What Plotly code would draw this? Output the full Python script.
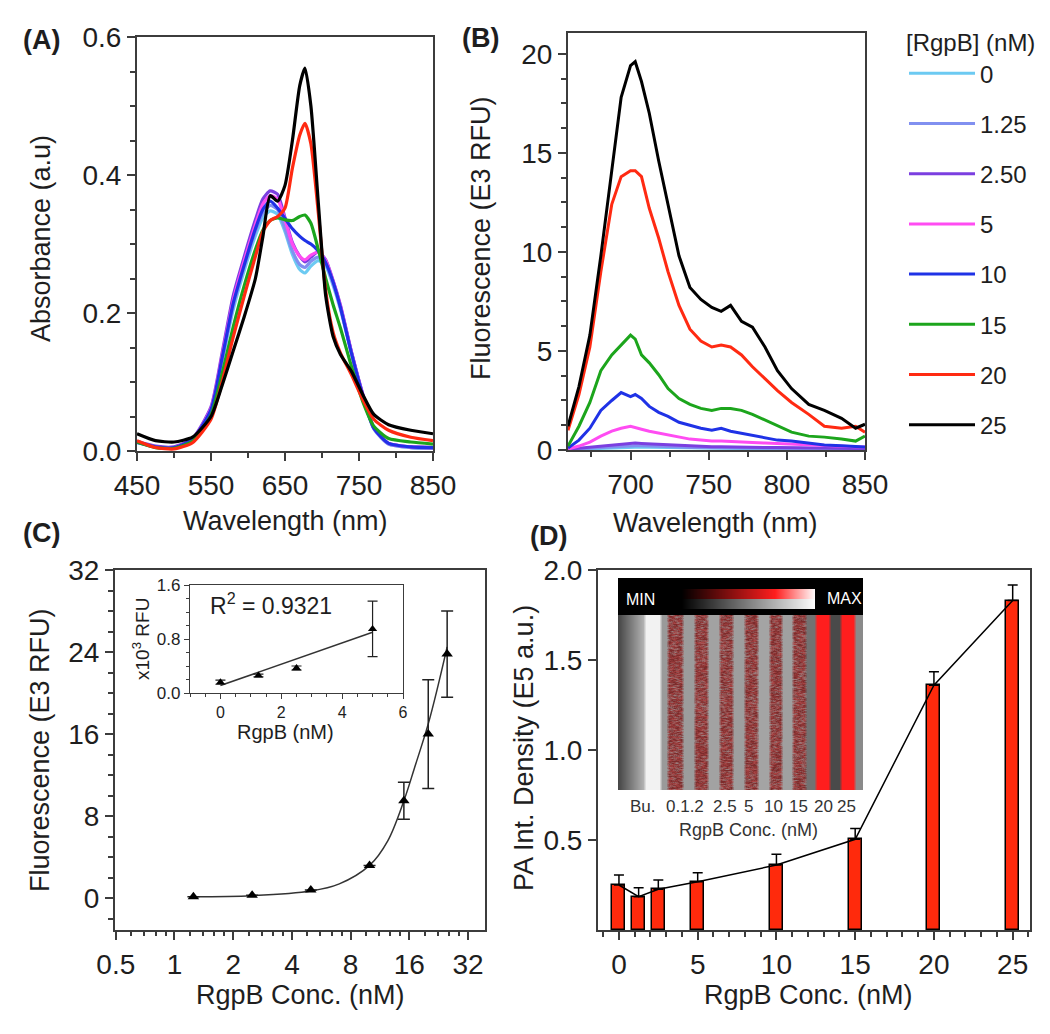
import base64, struct, zlib
import numpy as np
import plotly.graph_objects as go

W, H = 1050, 1034
FONT = "Liberation Sans, Arial, sans-serif"
TXT = "#1e1e1e"
AXC = "#3c3c3c"

# ---------------- data ----------------
CONC_LABELS = ["0", "1.25", "2.50", "5", "10", "15", "20", "25"]
COLORS = ["#6ccaf2", "#8190f0", "#7b3fe0", "#ff4cf2", "#1f32e6", "#1ca51c", "#ff2a12", "#000000"]

# (A) absorbance spectra
WL_A = [450, 475, 500, 525, 550, 565, 580, 595, 610, 620, 630, 640, 650, 660, 670, 677, 685,
        695, 705, 715, 725, 740, 755, 770, 790, 820, 850]
ABS_0 = [0.012, 0.006, 0.005, 0.016, 0.058, 0.130, 0.205, 0.262, 0.312, 0.338, 0.348, 0.343, 0.318,
         0.285, 0.263, 0.258, 0.268, 0.276, 0.268, 0.240, 0.205, 0.140, 0.080, 0.032, 0.010, 0.005, 0.004]
ABS_125 = [0.012, 0.006, 0.005, 0.016, 0.060, 0.133, 0.210, 0.268, 0.318, 0.345, 0.356, 0.350, 0.322,
           0.290, 0.270, 0.266, 0.275, 0.281, 0.272, 0.243, 0.208, 0.142, 0.082, 0.033, 0.010, 0.005, 0.004]
ABS_250 = [0.014, 0.007, 0.006, 0.018, 0.064, 0.142, 0.225, 0.282, 0.335, 0.365, 0.377, 0.372, 0.338,
           0.302, 0.282, 0.274, 0.281, 0.289, 0.277, 0.247, 0.211, 0.143, 0.083, 0.034, 0.011, 0.006, 0.005]
ABS_5 = [0.013, 0.006, 0.005, 0.017, 0.062, 0.138, 0.218, 0.276, 0.328, 0.358, 0.370, 0.365, 0.335,
         0.300, 0.282, 0.277, 0.284, 0.288, 0.276, 0.246, 0.210, 0.142, 0.082, 0.033, 0.011, 0.006, 0.005]
ABS_10 = [0.013, 0.006, 0.005, 0.017, 0.060, 0.135, 0.214, 0.270, 0.322, 0.350, 0.362, 0.352, 0.337,
          0.322, 0.311, 0.305, 0.300, 0.290, 0.273, 0.245, 0.208, 0.141, 0.081, 0.033, 0.011, 0.006, 0.005]
ABS_15 = [0.013, 0.005, 0.004, 0.014, 0.052, 0.112, 0.180, 0.240, 0.292, 0.320, 0.334, 0.338, 0.335,
          0.334, 0.340, 0.342, 0.330, 0.292, 0.250, 0.212, 0.178, 0.122, 0.072, 0.036, 0.018, 0.013, 0.010]
ABS_20 = [0.015, 0.005, 0.003, 0.012, 0.046, 0.100, 0.165, 0.225, 0.282, 0.318, 0.334, 0.340, 0.352,
          0.410, 0.458, 0.475, 0.445, 0.345, 0.232, 0.172, 0.142, 0.110, 0.075, 0.046, 0.030, 0.020, 0.015]
ABS_25 = [0.025, 0.015, 0.013, 0.020, 0.050, 0.095, 0.145, 0.195, 0.250, 0.310, 0.370, 0.362, 0.385,
          0.450, 0.530, 0.555, 0.500, 0.360, 0.225, 0.166, 0.140, 0.115, 0.082, 0.053, 0.038, 0.030, 0.025]

# (B) fluorescence spectra (E3 RFU)
WL_B = [660, 667, 674, 681, 688, 694, 700, 703, 707, 712, 718, 724, 731, 738, 745, 752, 758, 764,
        771, 778, 786, 794, 803, 814, 824, 835, 844, 850]
FL_0 = [0.02, 0.04, 0.07, 0.10, 0.13, 0.15, 0.16, 0.16, 0.15, 0.14, 0.13, 0.12, 0.11, 0.10, 0.09,
        0.08, 0.08, 0.08, 0.07, 0.07, 0.06, 0.06, 0.05, 0.05, 0.04, 0.04, 0.04, 0.04]
FL_125 = [0.03, 0.06, 0.10, 0.14, 0.18, 0.21, 0.22, 0.22, 0.21, 0.19, 0.18, 0.16, 0.15, 0.13, 0.12,
          0.11, 0.11, 0.10, 0.10, 0.09, 0.08, 0.08, 0.07, 0.06, 0.06, 0.05, 0.05, 0.05]
FL_250 = [0.04, 0.09, 0.15, 0.21, 0.27, 0.32, 0.35, 0.35, 0.33, 0.31, 0.28, 0.26, 0.23, 0.21, 0.19,
          0.17, 0.16, 0.16, 0.15, 0.14, 0.13, 0.12, 0.11, 0.10, 0.09, 0.08, 0.07, 0.07]
FL_5 = [0.05, 0.20, 0.40, 0.70, 0.95, 1.10, 1.20, 1.15, 1.05, 0.95, 0.85, 0.75, 0.65, 0.55, 0.50,
        0.45, 0.45, 0.42, 0.40, 0.38, 0.35, 0.32, 0.30, 0.27, 0.22, 0.20, 0.17, 0.15]
FL_10 = [0.10, 0.50, 1.10, 2.00, 2.50, 2.90, 2.70, 2.80, 2.60, 2.20, 1.90, 1.70, 1.40, 1.25, 1.10,
         1.00, 1.10, 0.95, 0.85, 0.75, 0.60, 0.50, 0.45, 0.35, 0.25, 0.22, 0.20, 0.15]
FL_15 = [0.20, 1.20, 2.40, 4.00, 4.80, 5.30, 5.80, 5.60, 4.80, 4.40, 3.80, 3.10, 2.60, 2.30, 2.10,
         2.00, 2.10, 2.10, 2.00, 1.80, 1.50, 1.20, 0.90, 0.70, 0.65, 0.55, 0.45, 0.70]
FL_20 = [1.00, 2.80, 5.20, 9.00, 12.40, 13.80, 14.10, 14.10, 13.80, 12.20, 10.70, 9.00, 7.30, 6.10,
         5.50, 5.20, 5.30, 5.20, 4.80, 4.20, 3.60, 3.00, 2.40, 1.80, 1.20, 1.10, 1.20, 0.90]
FL_25 = [1.20, 3.20, 5.80, 9.80, 14.10, 17.80, 19.40, 19.60, 18.60, 17.00, 14.60, 12.40, 9.80, 8.20,
         7.60, 7.20, 7.00, 7.30, 6.50, 6.20, 5.20, 4.00, 3.10, 2.30, 2.00, 1.60, 1.10, 1.30]

# (C) fluorescence vs concentration
C_CONC = [1.25, 2.5, 5, 10, 15, 20, 25]
C_FLUOR = [0.15, 0.30, 0.80, 3.2, 9.5, 16.0, 23.8]
C_ERR = [0, 0, 0, 0, 1.8, 5.3, 4.2]
C_FIT_X = [1.25, 2.5, 5, 7, 10, 12.4, 15, 17, 20, 22.5, 25]
C_FIT_Y = [0.15, 0.25, 0.70, 1.40, 3.20, 5.60, 9.50, 12.70, 17.0, 20.8, 24.5]
INS_X = [0, 1.25, 2.5, 5]
INS_Y = [0.16, 0.26, 0.37, 0.95]
INS_ERR = [0.03, 0.02, 0.03, 0.41]
INS_FIT_X = [0, 5]
INS_FIT_Y = [0.11, 0.90]

# (D) photoacoustic intensity
D_CONC = [0, 1.25, 2.5, 5, 10, 15, 20, 25]
D_PA = [0.25, 0.185, 0.226, 0.268, 0.361, 0.504, 1.36, 1.83]
D_ERR = [0.055, 0.05, 0.052, 0.05, 0.06, 0.06, 0.075, 0.087]
LANE_LABELS = ["Bu.", "0.1.2", "2.5", "5", "10", "15", "20", "25"]

ABS_SERIES = [ABS_0, ABS_125, ABS_250, ABS_5, ABS_10, ABS_15, ABS_20, ABS_25]
FL_SERIES = [FL_0, FL_125, FL_250, FL_5, FL_10, FL_15, FL_20, FL_25]


# ---------------- helpers ----------------
def dom_x(a, b):
    return [a / W, b / W]


def dom_y(top, bottom):
    return [1 - bottom / H, 1 - top / H]


def axstyle(size=28, lw=2, tl=8, **kw):
    d = dict(showline=True, linecolor=AXC, linewidth=lw, mirror=True, ticks="outside",
             ticklen=tl, tickwidth=lw, tickcolor=AXC, showgrid=False, zeroline=False,
             automargin=False,
             tickfont=dict(size=size, color=TXT, family=FONT), layer="above traces")
    d.update(kw)
    return d


def minor(**kw):
    d = dict(ticks="outside", ticklen=5, tickwidth=1.5, tickcolor=AXC, showgrid=False)
    d.update(kw)
    return d


fig = go.Figure()

# (A)
for i, ys in enumerate(ABS_SERIES):
    fig.add_trace(go.Scatter(x=WL_A, y=ys, mode="lines",
                             line=dict(color=COLORS[i], width=3.2, shape="spline", smoothing=0.6),
                             xaxis="x", yaxis="y", showlegend=False, hoverinfo="skip"))
# (B)
for i, ys in enumerate(FL_SERIES):
    fig.add_trace(go.Scatter(x=WL_B, y=ys, mode="lines", line=dict(color=COLORS[i], width=3),
                             name=CONC_LABELS[i], legendgroup=str(i), xaxis="x2", yaxis="y2",
                             showlegend=True))
# (C)
fig.add_trace(go.Scatter(x=C_FIT_X, y=C_FIT_Y, mode="lines",
                         line=dict(color="#333333", width=1.5, shape="spline"),
                         xaxis="x3", yaxis="y3", showlegend=False))
fig.add_trace(go.Scatter(x=C_CONC, y=C_FLUOR, mode="markers",
                         marker=dict(symbol="triangle-up", size=10, color="black"),
                         error_y=dict(type="data", array=C_ERR, color="#222", thickness=1.5, width=6),
                         xaxis="x3", yaxis="y3", showlegend=False))
# (C) inset
fig.add_trace(go.Scatter(x=INS_FIT_X, y=INS_FIT_Y, mode="lines", line=dict(color="#333333", width=1.5),
                         xaxis="x4", yaxis="y4", showlegend=False))
fig.add_trace(go.Scatter(x=INS_X, y=INS_Y, mode="markers",
                         marker=dict(symbol="triangle-up", size=8, color="black"),
                         error_y=dict(type="data", array=INS_ERR, color="#222", thickness=1.2, width=5),
                         xaxis="x4", yaxis="y4", showlegend=False))
# (D)
fig.add_trace(go.Bar(x=D_CONC, y=D_PA, width=0.82,
                     marker=dict(color="#ff2a0c", line=dict(color="black", width=1.5)),
                     error_y=dict(type="data", array=D_ERR, arrayminus=[0] * len(D_ERR), symmetric=False,
                                  color="black", thickness=1.5, width=5),
                     xaxis="x5", yaxis="y5", showlegend=False))
fig.add_trace(go.Scatter(x=D_CONC, y=D_PA, mode="lines", line=dict(color="black", width=1.5),
                         xaxis="x5", yaxis="y5", showlegend=False))

# C log-axis minor ticks
c_minor = [b * f for b in [0.5, 1, 2, 4, 8, 16, 32] for f in (1.2, 1.4, 1.6, 1.8)]
c_minor = [v for v in c_minor if v < 38]

fig.update_layout(
    width=W, height=H, margin=dict(l=0, r=0, t=0, b=0, autoexpand=False),
    paper_bgcolor="white", plot_bgcolor="white",
    font=dict(family=FONT, color=TXT),
    xaxis=axstyle(domain=dom_x(129, 425), range=[450, 850], tickvals=[450, 550, 650, 750, 850],
                  minor=minor(dtick=50, tick0=450), anchor="y"),
    yaxis=axstyle(domain=dom_y(29, 443), range=[0, 0.6], tickvals=[0, 0.2, 0.4, 0.6], tickformat=".1f",
                  minor=minor(dtick=0.05, tick0=0), anchor="x"),
    xaxis2=axstyle(domain=dom_x(560, 857), range=[660, 850], tickvals=[700, 750, 800, 850],
                   minor=minor(dtick=25, tick0=675), anchor="y2"),
    yaxis2=axstyle(domain=dom_y(25, 442), range=[0, 21.05], tickvals=[0, 5, 10, 15, 20],
                   minor=minor(dtick=1.25, tick0=0), anchor="x2"),
    xaxis3=axstyle(domain=dom_x(107, 477), type="log", range=[np.log10(0.5) - 0.004, 1.592],
                   tickvals=[0.5, 1, 2, 4, 8, 16, 32], ticktext=["0.5", "1", "2", "4", "8", "16", "32"],
                   minor=minor(tickmode="array", tickvals=c_minor, ticklen=4), anchor="y3"),
    yaxis3=axstyle(domain=dom_y(562, 922), range=[-3.1, 32], tickvals=[0, 8, 16, 24, 32],
                   minor=minor(dtick=2, tick0=0), anchor="x3"),
    xaxis4=axstyle(size=16, lw=1.3, tl=5, domain=dom_x(182, 395), range=[-1, 6], tickvals=[0, 2, 4, 6],
                   minor=minor(dtick=0.5, tick0=0, ticklen=3, tickwidth=1), anchor="y4"),
    yaxis4=axstyle(size=17, lw=1.3, tl=5, domain=dom_y(577, 685), range=[0, 1.6], tickvals=[0, 0.8, 1.6],
                   tickformat=".1f", minor=minor(dtick=0.2, tick0=0, ticklen=3, tickwidth=1), anchor="x4"),
    xaxis5=axstyle(domain=dom_x(590, 1022), range=[-1.33, 26.1], tickvals=[0, 5, 10, 15, 20, 25],
                   minor=minor(dtick=1, tick0=0), anchor="y5"),
    yaxis5=axstyle(domain=dom_y(562, 922), range=[0, 2.0], tickvals=[0.5, 1.0, 1.5, 2.0], tickformat=".1f",
                   anchor="x5"),
    legend=dict(x=896 / W, y=1 - 12 / H, xanchor="left", yanchor="top",
                title=dict(text="[RgpB] (nM)", font=dict(size=24, color=TXT, family=FONT)),
                font=dict(size=24, color=TXT, family=FONT), tracegroupgap=16, bgcolor="rgba(0,0,0,0)",
                itemwidth=66),
    bargap=0,
)


# ---------------- inset picture for (D) ----------------
IMG_W, IMG_H, BAND_H = 245, 212, 37
STRIPE_START = [0, 27, 43, 50, 65, 77, 90, 102, 115, 127, 140, 152, 164, 175, 188, 198, 212, 223, 237]
STRIPE_END = [27, 43, 50, 65, 77, 90, 102, 115, 127, 140, 152, 164, 175, 188, 198, 212, 223, 237, 245]
STRIPE_COL = ["grad", "#f2f2f2", "#9a9a9a", "red", "#9c9c9c", "red", "#a2a2a2", "red", "#9e9e9e", "red",
              "#a4a4a4", "red", "#a0a0a0", "red", "#727272", "#ff1e1e", "#4a4a4a", "#ff1e1e", "#8a8a8a"]


def hex2rgb(h):
    h = h.lstrip("#")
    return np.array([int(h[k:k + 2], 16) for k in (0, 2, 4)], dtype=float)


img = np.zeros((IMG_H, IMG_W, 3))
g0, g1, gy0, gy1 = 63, 197, 11, 31
gm = (gy0 + gy1) // 2
for xx in range(g0, g1):
    t = (xx - g0) / (g1 - g0)
    redc = np.array([255, 30, 30.0])
    if t < 0.7:
        top = redc * t / 0.7
    else:
        s = (t - 0.7) / 0.3
        top = redc * (1 - s) + 255 * s
    img[gy0:gm, xx] = top
    img[gm:gy1, xx] = 255 * t
RED_A, RED_B, RED_C = hex2rgb("#a84444"), hex2rgb("#7c2c2c"), hex2rgb("#9a7a7a")
for s, e, c in zip(STRIPE_START, STRIPE_END, STRIPE_COL):
    if c == "grad":
        for xx in range(s, e):
            img[BAND_H:, xx] = 70 + (185 - 70) * (xx - s) / (e - s)
    elif c == "red":
        for xx in range(s, e):
            for r in range(BAND_H, IMG_H):
                k = (((r * 73856093) ^ (xx * 19349663) ^ ((r // 2) * 83492791)) >> 3) % 9
                img[r, xx] = RED_A if k < 3 else (RED_B if k < 7 else RED_C)
    else:
        img[BAND_H:, s:e] = hex2rgb(c)
lane = img[BAND_H:].copy()
lane[:, 1:-1] = (lane[:, :-2] + lane[:, 1:-1] + lane[:, 2:]) / 3
img[BAND_H:] = lane
img = np.clip(img, 0, 255).astype(np.uint8)


def png_uri(arr):
    h, w, _ = arr.shape
    raw = b"".join(b"\x00" + arr[y].tobytes() for y in range(h))

    def chunk(t, d):
        c = struct.pack(">I", len(d)) + t + d
        return c + struct.pack(">I", zlib.crc32(t + d) & 0xFFFFFFFF)

    png = (b"\x89PNG\r\n\x1a\n" + chunk(b"IHDR", struct.pack(">IIBBBBB", w, h, 8, 2, 0, 0, 0))
           + chunk(b"IDAT", zlib.compress(raw, 9)) + chunk(b"IEND", b""))
    return "data:image/png;base64," + base64.b64encode(png).decode()


fig.add_layout_image(dict(source=png_uri(img), xref="paper", yref="paper", x=610 / W, y=1 - 570 / H,
                          sizex=IMG_W / W, sizey=IMG_H / H, xanchor="left", yanchor="top",
                          sizing="stretch", layer="above"))


# ---------------- text ----------------
def ann(text, x, y, size=27, angle=0, bold=False, color=TXT, xanchor="center"):
    if bold:
        text = "<b>" + text + "</b>"
    fig.add_annotation(text=text, x=x / W, y=1 - y / H, xref="paper", yref="paper", showarrow=False,
                       textangle=angle, xanchor=xanchor, yanchor="middle",
                       font=dict(size=size, color=color, family=FONT))


ann("(A)", 33, 32, size=27, bold=True)
ann("(B)", 472, 30, size=27, bold=True)
ann("(C)", 33, 525, size=27, bold=True)
ann("(D)", 540, 528, size=27, bold=True)
ann("Absorbance (a.u)", 33, 231, angle=-90)
ann("Wavelength (nm)", 277, 513)
ann("Fluorescence (E3 RFU)", 473, 230, angle=-90)
ann("Wavelength (nm)", 707, 515)
ann("Fluorescence (E3 RFU)", 32, 742, angle=-90)
ann("RgpB Conc. (nM)", 292, 987)
ann("PA Int. Density (E5 a.u.)", 516, 740, angle=-90)
ann("RgpB Conc. (nM)", 800, 987)
ann("R<sup>2</sup> = 0.9321", 263, 596, size=23)
ann("x10<sup>3</sup> RFU", 133, 631, size=19, angle=-90)
ann("RgpB (nM)", 277, 724, size=20)
ann("MIN", 632, 591, size=16, color="white")
ann("MAX", 836, 590, size=16, color="white")
LANE_X = [635, 677, 717, 740, 765, 790, 815, 838]
for lab, lx in zip(LANE_LABELS, LANE_X):
    ann(lab, lx, 798, size=17, color="#333333")
ann("RgpB Conc. (nM)", 740, 822, size=18, color="#333333")

fig.write_html("out.html")
